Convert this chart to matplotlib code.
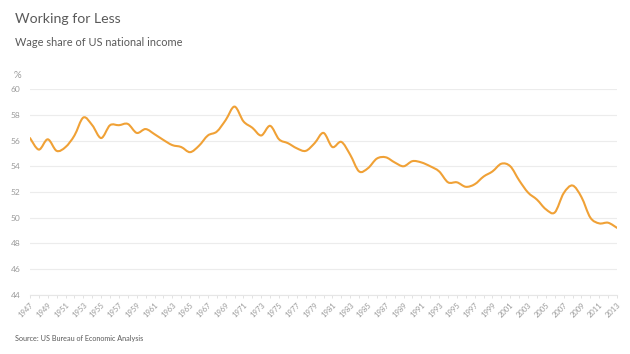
import matplotlib
matplotlib.use("Agg")
import matplotlib.pyplot as plt
import numpy as np
from matplotlib.path import Path
from matplotlib.patches import PathPatch

# Wage share of US national income, annual (%)
years = list(range(1947, 2014))
wage_share = [
    56.2, 55.3, 56.1, 55.2, 55.5, 56.4, 57.8, 57.2, 56.2, 57.2,
    57.2, 57.3, 56.6, 56.9, 56.5, 56.05, 55.65, 55.5, 55.1, 55.6,
    56.4, 56.7, 57.6, 58.65, 57.5, 57.0, 56.4, 57.15, 56.1, 55.8,
    55.4, 55.2, 55.8, 56.6, 55.5, 55.9, 54.9, 53.6, 53.85, 54.6,
    54.7, 54.3, 54.0, 54.4, 54.3, 54.0, 53.6, 52.75, 52.75, 52.4,
    52.6, 53.2, 53.6, 54.2, 54.0, 52.9, 51.95, 51.4, 50.65, 50.4,
    51.9, 52.5, 51.6, 50.0, 49.55, 49.6, 49.2,
]
y_ticks = [44, 46, 48, 50, 52, 54, 56, 58, 60]
x_labels = [str(y) for y in range(1947, 2014, 2)]

TITLE = "Working for Less"
SUBTITLE = "Wage share of US national income"
SOURCE = "Source: US Bureau of Economic Analysis"

LINE = "#f0a136"
GREY = "#5a5a5a"
LIGHT = "#9a9a9a"
FONT = ["Lato", "DejaVu Sans"]


def smooth_path(xs, ys):
    # Catmull-Rom through the points, drawn as cubic Bezier segments
    x = np.asarray(xs, float)
    y = np.asarray(ys, float)
    verts = [(x[0], y[0])]
    codes = [Path.MOVETO]
    n = len(x)
    for i in range(n - 1):
        p0 = (x[max(i - 1, 0)], y[max(i - 1, 0)])
        p1 = (x[i], y[i])
        p2 = (x[i + 1], y[i + 1])
        p3 = (x[min(i + 2, n - 1)], y[min(i + 2, n - 1)])
        c1 = (p1[0] + (p2[0] - p0[0]) / 6, p1[1] + (p2[1] - p0[1]) / 6)
        c2 = (p2[0] - (p3[0] - p1[0]) / 6, p2[1] - (p3[1] - p1[1]) / 6)
        verts += [c1, c2, p2]
        codes += [Path.CURVE4] * 3
    return Path(verts, codes)


fig = plt.figure(figsize=(6.3, 3.54), dpi=100)
fig.patch.set_facecolor("white")
ax = fig.add_axes([0.0476, 0.1678, 0.9318, 0.58])

ax.add_patch(PathPatch(smooth_path(years, wage_share), facecolor="none",
                       edgecolor=LINE, linewidth=1.5, capstyle="round", zorder=3))
ax.set_xlim(1947, 2013)
ax.set_ylim(44, 60)

ax.set_yticks(y_ticks)
ax.set_yticklabels([str(v) for v in y_ticks], fontsize=6, color=LIGHT, family=FONT)
ax.tick_params(axis="y", length=0, pad=7)
ax.grid(axis="y", color="#ececec", linewidth=0.8)
ax.set_axisbelow(True)

ax.set_xticks(range(1947, 2014, 2))
ax.set_xticklabels(x_labels, rotation=45, ha="right", va="top",
                   rotation_mode="anchor", fontsize=5.5, color=LIGHT, family=FONT)
ax.set_xticks(years, minor=True)
ax.tick_params(axis="x", which="both", length=2, color="#dddddd", width=0.6, pad=3)

for side in ["top", "right", "left"]:
    ax.spines[side].set_visible(False)
ax.spines["bottom"].set_color("#e6e6e6")
ax.spines["bottom"].set_linewidth(0.8)

fig.text(0.024, 0.945, TITLE, fontsize=10.2, color=GREY, family=FONT, va="center")
fig.text(0.024, 0.88, SUBTITLE, fontsize=7.9, color=GREY, family=FONT, va="center")
fig.text(0.022, 0.787, "%", fontsize=7, color=LIGHT, family=FONT, va="center")
fig.text(0.024, 0.045, SOURCE, fontsize=5.2, color=GREY, family=FONT, va="center")

fig.savefig("out.png", dpi=100, facecolor="white")
